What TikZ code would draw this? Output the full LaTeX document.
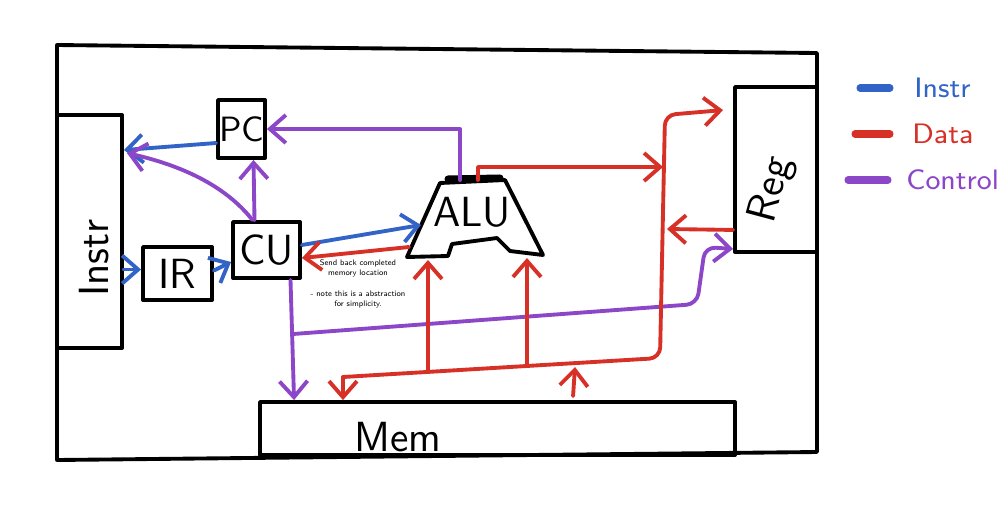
\documentclass[tikz,border=0pt]{standalone}
\usepackage{tikz}
\usetikzlibrary{positioning}
\usetikzlibrary{calc}
\usetikzlibrary{arrows.meta}
\definecolor{instrcol}{RGB}{50,100,200}
\definecolor{datacol}{RGB}{215,48,38}
\definecolor{ctrlcol}{RGB}{140,70,200}
\tikzset{>={Straight Barb[length=1.6mm,width=2.8mm]}}

\begin{document}
\begin{tikzpicture}[x=0.1mm, y=-0.1mm, line cap=round, line join=round,
  frame/.style={draw, line width=1.1pt},
  box/.style={draw, line width=1.1pt, inner sep=0pt, font=\sffamily\large},
  lbl/.style={font=\sffamily\large},
  lgd/.style={font=\sffamily\footnotesize, anchor=west},
  note/.style={font=\sffamily\fontsize{2.3}{2.9}\selectfont, align=center},
  instr/.style={->, instrcol, line width=1.1pt},
  data/.style={->, datacol, line width=1.1pt},
  ctrl/.style={->, ctrlcol, line width=1.1pt}]

\useasboundingbox (0,0) rectangle (1000,507);

% Outer frame
\draw[frame] (57,45) -- (817,53) -- (817,452) -- (57,460) -- cycle;

% Boxes
\node[box, minimum width=6.5mm, minimum height=23.3mm] (instr) at (89.5,231.5) {};
\node[lbl, rotate=90] (instrlbl) at (94,258) {Instr};
\node[box, minimum width=8.2mm, minimum height=16.5mm] (reg) at (776,169.5) {};
\node[lbl, rotate=75] (reglbl) at (772,190) {Reg};
\node[box, minimum width=4.7mm, minimum height=5.8mm, font=\sffamily\normalsize] (pc) at (241.5,129) {PC};
\node[box, minimum width=6.9mm, minimum height=5.3mm] (ir) at (177.5,273.5) {IR};
\node[box, minimum width=6.7mm, minimum height=5.6mm] (cu) at (266.5,250) {CU};
\node[box, minimum width=47.5mm, minimum height=5.3mm] (mem) at (497.5,428.5) {};
\node[lbl] (memlbl) at (398,437) {Mem};

% ALU
\draw[frame] (440,183) -- (505,180) -- (543,255) -- (510,251) -- (497,238)
  -- (452,244) -- (448,256) -- (407,257) -- cycle;
\draw[line width=2pt] (448,179) -- (500,178);
\node[font=\sffamily\large] (alu) at (472,212) {ALU};
\coordinate (alutopc) at (460,180);
\coordinate (alutopd) at (478,180);
\coordinate (aluleft) at (421,225);
\coordinate (aluout) at (409,247);

\node[note] (note) at (358,284) {Send back completed\\memory location\\[1mm]- note this is a abstraction\\for simplicity.};

% Instr
\draw[instr] ($(pc.west)+(0,14)$) -- ($(instr.north east)+(0,37)$);
\draw[instr] ($(instr.east)+(0,38)$) -- ($(ir.west)+(0,-4)$);
\draw[instr] ($(ir.east)+(0,-3)$) -- ($(cu.west)+(0,12)$);
\draw[instr] ($(cu.east)+(0,-5)$) -- (aluleft);

% Control
\draw[ctrl] ($(cu.north)+(-12,0)$) -- ($(pc.south)+(12,0)$);
\draw[ctrl] ($(cu.north)+(-14,0)$) .. controls (225,185) and (180,165) .. ($(instr.north east)+(3,40)$);
\draw[ctrl] (alutopc) |- (pc.east);
\draw[ctrl] ($(cu.south)+(24,0)$) -- ($(mem.north west)+(36,0)$);
\coordinate (ctrlb) at (293,334);
\draw[ctrl, rounded corners=3pt] (ctrlb) -- (697,304) -- (705,247) -- ($(reg.south west)+(0,-5)$);

% Data
\coordinate (busl) at (343,377);
\coordinate (busr) at (660,358);
\coordinate (bust) at (665,115);
\draw[data] (alutopd) |- (663,167);
\draw[data, rounded corners=3pt] (busl) -- (busr) -- (bust) -- ($(reg.north west)+(-10,25)$);
\draw[data] (busl) -- (busl |- mem.north);
\draw[data] ($(mem.north west)+(315,-4)$) -- (575,367);
\draw[data] (428,372) -- (428,260);
\draw[data] (527,366) -- (527,258);
\draw[data] ($(reg.south west)+(0,-24)$) -- (667,229);
\draw[data] (aluout) -- ($(cu.east)+(0,8)$);

% Legend
\node[lgd, text=instrcol] (lginstr) at (902,88) {Instr};
\draw[instrcol, line width=2pt] ($(lginstr.west)+(-12,0)$) -- ++(-30,0);
\node[lgd, text=datacol] (lgdata) at (900,134) {Data};
\draw[datacol, line width=2pt] ($(lgdata.west)+(-10,0)$) -- ++(-35,0);
\node[lgd, text=ctrlcol] (lgctrl) at (894,180) {Control};
\draw[ctrlcol, line width=2pt] ($(lgctrl.west)+(-6,0)$) -- ++(-40,0);

\end{tikzpicture}
\end{document}
